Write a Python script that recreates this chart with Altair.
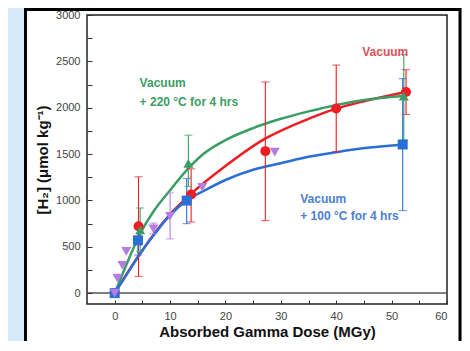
import altair as alt
import pandas as pd

FONT = "Liberation Sans"

# ---------------- data ----------------
series = ["vac", "v220", "v100", "oth"]
colors = ["#ee1d23", "#3a9e64", "#2a6fd6", "#b47de2"]
shapes = ["circle", "triangle-up", "square", "triangle-down"]

# Vacuum (red circles)
vac_x = [0, 4.3, 13.8, 27.2, 40.0, 52.6]
vac_y = [0, 720, 1063, 1531, 1992, 2169]
vac_lo = [None, 180, 767, 782, 1524, 1927]
vac_hi = [None, 1254, 1340, 2277, 2460, 2410]

# Vacuum + 220 C (green triangles)
v220_x = [0, 4.6, 13.3, 52.2]
v220_y = [0, 680, 1400, 2125]
v220_lo = [None, 450, 1150, 1650]
v220_hi = [None, 918, 1704, 2575]

# Vacuum + 100 C (blue squares)
v100_x = [0, 4.2, 13.0, 52.0]
v100_y = [0, 569, 998, 1603]
v100_lo = [None, 410, 749, 890]
v100_hi = [None, 740, 1236, 2313]

# other (purple inverted triangles)
oth_x = [0, 0.5, 1.4, 2.1, 7.0, 10.0, 15.8, 28.9]
oth_y = [0, 162, 299, 450, 692, 829, 1142, 1520]
oth_lo = [None, None, None, None, 640, 584, None, None]
oth_hi = [None, None, None, None, 755, 1081, None, None]

# fitted curves
vac_cx = [0, 2, 4.3, 7, 10, 13.8, 20, 27, 35, 40, 45, 52.6]
vac_cy = [0, 190, 400, 630, 850, 1070, 1370, 1660, 1880, 1990, 2070, 2170]
v220_cx = [0, 2, 4.6, 7, 10, 13.3, 16, 20, 25, 30, 35, 40, 46, 52.2]
v220_cy = [0, 290, 640, 880, 1110, 1345, 1500, 1650, 1780, 1880, 1960, 2030, 2090, 2125]
v100_cx = [0, 2, 4.3, 7, 10, 13, 16, 20, 25, 30, 35, 40, 46, 52]
v100_cy = [0, 185, 400, 620, 840, 1000, 1100, 1220, 1330, 1400, 1470, 1520, 1570, 1600]

# annotations
ann_text = ["Vacuum", "Vacuum", "+ 220 \u00b0C for 4 hrs", "Vacuum", "+ 100 \u00b0C for 4 hrs"]
ann_x = [44.7, 4.5, 4.5, 33.5, 33.5]
ann_y = [2600, 2270, 2065, 1020, 830]
ann_c = ["#e0505a", "#3a9e64", "#3a9e64", "#4a80d2", "#4a80d2"]

x_ticks = list(range(0, 61, 10))
y_ticks = list(range(0, 3001, 500))

# ---------------- frames ----------------
pts = []
for s, xs_, ys_, lo_, hi_ in [("vac", vac_x, vac_y, vac_lo, vac_hi),
                              ("v220", v220_x, v220_y, v220_lo, v220_hi),
                              ("v100", v100_x, v100_y, v100_lo, v100_hi),
                              ("oth", oth_x, oth_y, oth_lo, oth_hi)]:
    for a, b, l, h in zip(xs_, ys_, lo_, hi_):
        pts.append({"s": s, "x": a, "y": b, "lo": l, "hi": h})
pts = pd.DataFrame(pts)
err = pts.dropna(subset=["lo"])

curves = []
for s, cx, cy in [("vac", vac_cx, vac_cy), ("v220", v220_cx, v220_cy), ("v100", v100_cx, v100_cy)]:
    for i, (a, b) in enumerate(zip(cx, cy)):
        curves.append({"s": s, "x": a, "y": b, "o": i})
curves = pd.DataFrame(curves)

ann = pd.DataFrame({"t": ann_text, "x": ann_x, "y": ann_y, "c": ann_c})

XS = alt.Scale(domain=[-5, 60], nice=False, zero=False)
YS = alt.Scale(domain=[-118, 3000], nice=False, zero=False)
CS = alt.Scale(domain=series, range=colors)
SS = alt.Scale(domain=series, range=shapes)

W, H = 360, 289

box = alt.Chart(alt.Data(values=[{}])).mark_rect(
    fill="white", stroke="black", strokeWidth=3
).encode(x=alt.value(-61.5), x2=alt.value(373), y=alt.value(-5.5), y2=alt.value(400))

frame = alt.Chart(alt.Data(values=[{}])).mark_rect(
    fillOpacity=0, stroke="#222", strokeWidth=1.5
).encode(x=alt.value(0), x2=alt.value(W), y=alt.value(0), y2=alt.value(H))

zero = alt.Chart(alt.Data(values=[{}])).mark_rule(color="#555", strokeWidth=1.5).encode(
    x=alt.value(0), x2=alt.value(W), y=alt.datum(0, scale=YS, axis=None)
)

main_x_axis = alt.Axis(values=x_ticks, format="d", ticks=False, domain=False, grid=False, labelPadding=6,
                       labelFont=FONT, labelFontSize=11, labelColor="#444",
                       title="Absorbed Gamma Dose (MGy)", titleFont=FONT, titleFontSize=15,
                       titleFontWeight="bold", titleColor="#111", titlePadding=3, zindex=1)
main_y_axis = alt.Axis(values=y_ticks, format="d", ticks=False, domain=False, grid=False, labelPadding=7,
                       labelFont=FONT, labelFontSize=11, labelColor="#444",
                       title="[H\u2082] (\u03bcmol kg\u207b\u00b9)", titleFont=FONT, titleFontSize=15,
                       titleFontWeight="bold", titleColor="#111", titlePadding=5, zindex=1)

lines = alt.Chart(curves).mark_line(interpolate="monotone", strokeWidth=2.5).encode(
    x=alt.X("x:Q", scale=XS, axis=main_x_axis),
    y=alt.Y("y:Q", scale=YS, axis=main_y_axis),
    color=alt.Color("s:N", scale=CS, legend=None),
    order="o:Q",
)

bars = alt.Chart(err).mark_rule(strokeWidth=1.1).encode(
    x=alt.X("x:Q", scale=XS, axis=None),
    y=alt.Y("lo:Q", scale=YS, axis=None),
    y2="hi:Q",
    color=alt.Color("s:N", scale=CS, legend=None),
)
cap_lo = alt.Chart(err).mark_tick(orient="horizontal", size=8, thickness=1.1).encode(
    x=alt.X("x:Q", scale=XS, axis=None),
    y=alt.Y("lo:Q", scale=YS, axis=None),
    color=alt.Color("s:N", scale=CS, legend=None),
)
cap_hi = alt.Chart(err).mark_tick(orient="horizontal", size=8, thickness=1.1).encode(
    x=alt.X("x:Q", scale=XS, axis=None),
    y=alt.Y("hi:Q", scale=YS, axis=None),
    color=alt.Color("s:N", scale=CS, legend=None),
)

tick_x_axis = alt.Axis(orient="top", offset=-H, values=list(range(0, 61, 5)), labels=False,
                       domain=False, grid=False, tickSize=4, tickColor="#333", tickWidth=1,
                       title=None, zindex=1)
tick_y_axis = alt.Axis(orient="right", offset=-W, values=list(range(0, 3001, 250)), labels=False,
                       domain=False, grid=False, tickSize=5, tickColor="#333", tickWidth=1,
                       title=None, zindex=1)

points = alt.Chart(pts).mark_point(filled=True, opacity=1).encode(
    x=alt.X("x:Q", scale=XS, axis=tick_x_axis),
    y=alt.Y("y:Q", scale=YS, axis=tick_y_axis),
    color=alt.Color("s:N", scale=CS, legend=None),
    shape=alt.Shape("s:N", scale=SS, legend=None),
    size=alt.value(100),
)

texts = alt.Chart(ann).mark_text(align="left", baseline="middle", font=FONT, fontSize=12,
                                 fontWeight="bold").encode(
    x=alt.X("x:Q", scale=XS, axis=None),
    y=alt.Y("y:Q", scale=YS, axis=None),
    text="t:N",
    color=alt.Color("c:N", scale=None),
)

chart = alt.layer(box, frame, zero, lines, bars, cap_lo, cap_hi, points, texts).resolve_axis(
    x="independent", y="independent"
).properties(
    width=W, height=H,
    autosize=alt.AutoSizeParams(type="none"),
    padding={"left": 79, "top": 7, "right": 15, "bottom": 37},
    background="#d5ebf8",
).configure_view(strokeWidth=0)

chart.save("out.html", embed_options={"renderer": "svg", "actions": False})
